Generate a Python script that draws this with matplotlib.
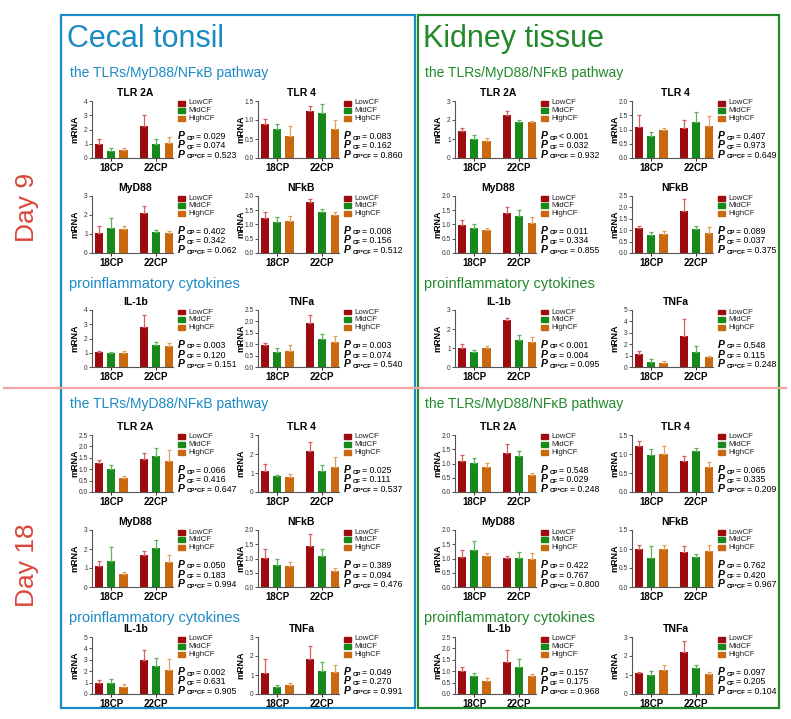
import numpy as np
import matplotlib
matplotlib.use('Agg')
import matplotlib.pyplot as plt
from matplotlib.patches import Rectangle
from matplotlib.lines import Line2D

plt.rcParams['font.family'] = 'Liberation Sans'

# ---- data (bar = mean, err = upper error bar) ----
# order: 18CP Low, Mid, High, 22CP Low, Mid, High
groups = ['18CP', '22CP']
treat = ['LowCF', 'MidCF', 'HighCF']

# Day 9, cecal tonsil
d9_ct_tlr2a = [1.0, 0.5, 0.58, 2.28, 1.0, 1.07]
d9_ct_tlr2a_err = [0.3, 0.18, 0.1, 0.77, 0.35, 0.43]
d9_ct_tlr4 = [0.9, 0.76, 0.58, 1.23, 1.18, 0.77]
d9_ct_tlr4_err = [0.13, 0.14, 0.25, 0.15, 0.24, 0.24]
d9_ct_myd88 = [1.03, 1.33, 1.25, 2.1, 1.08, 1.06]
d9_ct_myd88_err = [0.37, 0.52, 0.18, 0.35, 0.12, 0.09]
d9_ct_nfkb = [1.22, 1.09, 1.12, 1.78, 1.43, 1.32]
d9_ct_nfkb_err = [0.21, 0.19, 0.18, 0.12, 0.12, 0.13]
d9_ct_il1b = [1.02, 0.95, 1.0, 2.83, 1.55, 1.5]
d9_ct_il1b_err = [0.13, 0.08, 0.15, 0.79, 0.2, 0.2]
d9_ct_tnfa = [0.97, 0.67, 0.68, 1.92, 1.25, 1.1]
d9_ct_tnfa_err = [0.1, 0.16, 0.3, 0.38, 0.2, 0.27]

# Day 9, kidney
d9_kd_tlr2a = [1.4, 1.0, 0.88, 2.25, 1.9, 1.88]
d9_kd_tlr2a_err = [0.17, 0.22, 0.18, 0.2, 0.1, 0.07]
d9_kd_tlr4 = [1.1, 0.77, 1.0, 1.07, 1.27, 1.13]
d9_kd_tlr4_err = [0.4, 0.13, 0.05, 0.25, 0.36, 0.34]
d9_kd_myd88 = [0.98, 0.88, 0.8, 1.42, 1.3, 1.07]
d9_kd_myd88_err = [0.17, 0.14, 0.08, 0.21, 0.2, 0.21]
d9_kd_nfkb = [1.1, 0.78, 0.82, 1.85, 1.05, 0.87]
d9_kd_nfkb_err = [0.1, 0.12, 0.16, 0.5, 0.12, 0.25]
d9_kd_il1b = [0.98, 0.8, 0.98, 2.47, 1.42, 1.33]
d9_kd_il1b_err = [0.22, 0.12, 0.14, 0.11, 0.28, 0.27]
d9_kd_tnfa = [1.1, 0.45, 0.35, 2.7, 1.3, 0.87]
d9_kd_tnfa_err = [0.32, 0.25, 0.2, 1.55, 0.5, 0.13]

# Day 18, cecal tonsil
d18_ct_tlr2a = [1.27, 1.02, 0.6, 1.44, 1.58, 1.34]
d18_ct_tlr2a_err = [0.15, 0.18, 0.12, 0.26, 0.34, 0.52]
d18_ct_tlr4 = [1.12, 0.82, 0.78, 2.18, 1.13, 1.32]
d18_ct_tlr4_err = [0.38, 0.1, 0.15, 0.45, 0.27, 0.53]
d18_ct_myd88 = [1.08, 1.38, 0.68, 1.7, 2.07, 1.32]
d18_ct_myd88_err = [0.27, 0.74, 0.1, 0.17, 0.41, 0.36]
d18_ct_nfkb = [1.02, 0.78, 0.72, 1.43, 1.1, 0.55]
d18_ct_nfkb_err = [0.3, 0.19, 0.16, 0.42, 0.22, 0.12]
d18_ct_il1b = [0.97, 1.0, 0.62, 2.97, 2.5, 2.12]
d18_ct_il1b_err = [0.23, 0.3, 0.23, 0.9, 0.7, 0.98]
d18_ct_tnfa = [1.1, 0.38, 0.45, 1.85, 1.23, 1.18]
d18_ct_tnfa_err = [0.73, 0.12, 0.15, 0.7, 0.47, 0.37]

# Day 18, kidney
d18_kd_tlr2a = [1.1, 1.02, 0.88, 1.38, 1.27, 0.6]
d18_kd_tlr2a_err = [0.2, 0.16, 0.15, 0.3, 0.16, 0.05]
d18_kd_tlr4 = [1.22, 0.98, 1.01, 0.82, 1.07, 0.66]
d18_kd_tlr4_err = [0.13, 0.14, 0.19, 0.12, 0.1, 0.14]
d18_kd_myd88 = [1.05, 1.3, 1.1, 1.02, 1.02, 1.0]
d18_kd_myd88_err = [0.25, 0.32, 0.1, 0.08, 0.2, 0.2]
d18_kd_nfkb = [0.99, 0.77, 1.01, 0.93, 0.78, 0.95]
d18_kd_nfkb_err = [0.11, 0.31, 0.09, 0.15, 0.08, 0.15]
d18_kd_il1b = [1.03, 0.78, 0.55, 1.4, 1.17, 0.8]
d18_kd_il1b_err = [0.14, 0.12, 0.15, 0.52, 0.36, 0.08]
d18_kd_tnfa = [1.08, 1.02, 1.27, 2.2, 1.38, 1.06]
d18_kd_tnfa_err = [0.07, 0.18, 0.28, 0.6, 0.14, 0.12]

# P values (CP, CF, CP*CF)
p_d9_ct = [['= 0.029', '= 0.074', '= 0.523'], ['= 0.083', '= 0.162', '= 0.860'],
           ['= 0.402', '= 0.342', '= 0.062'], ['= 0.008', '= 0.156', '= 0.512'],
           ['= 0.003', '= 0.120', '= 0.151'], ['= 0.003', '= 0.074', '= 0.540']]
p_d9_kd = [['< 0.001', '= 0.032', '= 0.932'], ['= 0.407', '= 0.973', '= 0.649'],
           ['= 0.011', '= 0.334', '= 0.855'], ['= 0.089', '= 0.037', '= 0.375'],
           ['< 0.001', '= 0.004', '= 0.095'], ['= 0.548', '= 0.115', '= 0.248']]
p_d18_ct = [['= 0.066', '= 0.416', '= 0.647'], ['= 0.025', '= 0.111', '= 0.537'],
            ['= 0.050', '= 0.183', '= 0.994'], ['= 0.389', '= 0.094', '= 0.476'],
            ['= 0.002', '= 0.631', '= 0.905'], ['= 0.049', '= 0.270', '= 0.991']]
p_d18_kd = [['= 0.548', '= 0.029', '= 0.248'], ['= 0.065', '= 0.335', '= 0.209'],
            ['= 0.422', '= 0.767', '= 0.800'], ['= 0.762', '= 0.420', '= 0.967'],
            ['= 0.157', '= 0.175', '= 0.968'], ['= 0.097', '= 0.205', '= 0.104']]

titles = ['TLR 2A', 'TLR 4', 'MyD88', 'NFkB', 'IL-1b', 'TNFa']
# y-axis max and tick step for each panel
ylim_d9_ct = [(4, 1), (1.5, 0.5), (3, 1), (2.0, 0.5), (4, 1), (2.5, 0.5)]
ylim_d9_kd = [(3, 1), (2.0, 0.5), (2.0, 0.5), (2.5, 0.5), (3, 1), (5, 1)]
ylim_d18_ct = [(2.5, 0.5), (3, 1), (3, 1), (2.0, 0.5), (5, 1), (3, 1)]
ylim_d18_kd = [(2.0, 0.5), (1.5, 0.5), (2.0, 0.5), (1.5, 0.5), (2.5, 0.5), (3, 1)]

# ---- styling ----
bar_col = ['#9E0B0F', '#16891A', '#C9680F']
err_col = ['#D4605F', '#5DB35F', '#E2A160']
blue = '#1A8AC4'
green = '#22892A'
dayred = '#D9463A'

W, H = 791, 719
fig = plt.figure(figsize=(W / 100, H / 100), dpi=100)
renderer = fig.canvas.get_renderer()

def fx(x):
    return x / W

def fy(y):
    return 1 - y / H

xpos = np.array([0, 1, 2, 3.65, 4.65, 5.65])

def pval_line(x, y, sub, txt):
    t1 = fig.text(fx(x), fy(y), 'P', fontsize=7.5, fontweight='bold', style='italic', va='baseline')
    bb = t1.get_window_extent(renderer)
    t2 = fig.text(fx(x + bb.width + 1.5), fy(y + 0.5), sub, fontsize=4.4, fontweight='bold', va='baseline')
    bb2 = t2.get_window_extent(renderer)
    fig.text(fx(x + bb.width + 1.5 + bb2.width + 1.5), fy(y), txt, fontsize=6.3, va='baseline')

def panel(left, top, title, vals, errs, ymax, step, pv, w=81, h=57):
    ax = fig.add_axes([fx(left), fy(top + h), w / W, h / H])
    cols = bar_col * 2
    ecols = err_col * 2
    ax.bar(xpos, vals, width=0.66, color=cols, linewidth=0)
    for i in range(6):
        ax.errorbar(xpos[i], vals[i], yerr=[[0], [errs[i]]], fmt='none', ecolor=ecols[i],
                    elinewidth=0.9, capsize=1.6, capthick=0.9)
    ax.set_xlim(-0.55, 6.0)
    ax.set_ylim(0, ymax)
    ticks = np.arange(0, ymax + step / 2, step)
    ax.set_yticks(ticks)
    if step < 1:
        ax.set_yticklabels(['{:.1f}'.format(t) for t in ticks])
    else:
        ax.set_yticklabels(['{:d}'.format(int(t)) for t in ticks])
    ax.set_xticks([1, 4.65])
    ax.set_xticklabels(groups, fontsize=7, fontweight='bold')
    ax.tick_params(axis='y', labelsize=4.8, length=2, width=0.6, pad=1, colors='#333333')
    ax.tick_params(axis='x', length=2, width=0.6, pad=1.5)
    for s in ['top', 'right']:
        ax.spines[s].set_visible(False)
    for s in ['left', 'bottom']:
        ax.spines[s].set_color('#555555')
        ax.spines[s].set_linewidth(0.8)
    ax.set_ylabel('mRNA', fontsize=6.5, fontweight='bold')
    ax.yaxis.set_label_coords(-0.15, 0.5)
    ax.patch.set_alpha(0)
    # title
    fig.text(fx(left + w / 2 + 3), fy(top - 5), title, fontsize=7.5, fontweight='bold',
             ha='center', va='baseline')
    # legend
    lx = left + w + 5
    for k in range(3):
        cy = top + 2 + k * 7.7
        fig.add_artist(Rectangle((fx(lx), fy(cy + 2.5)), 7 / W, 5 / H, color=bar_col[k],
                                 transform=fig.transFigure))
        fig.text(fx(lx + 10), fy(cy), treat[k], fontsize=5.7, va='center', color='#222222')
    # p values
    subs = ['CP', 'CF', 'CP*CF']
    for k in range(3):
        pval_line(lx, top + h - 19 + k * 9.5, subs[k], pv[k])
    return ax

def section(cols, row_tops, vals_list, errs_list, ylims, pvs):
    for i in range(6):
        r = i // 2
        c = i % 2
        ym, st = ylims[i]
        panel(cols[c], row_tops[r], titles[i], vals_list[i], errs_list[i], ym, st, pvs[i])

ct_cols = [92, 258]
kd_cols = [455, 632]
d9_rows = [101, 196, 310]
d18_rows = [435, 530, 637]

section(ct_cols, d9_rows,
        [d9_ct_tlr2a, d9_ct_tlr4, d9_ct_myd88, d9_ct_nfkb, d9_ct_il1b, d9_ct_tnfa],
        [d9_ct_tlr2a_err, d9_ct_tlr4_err, d9_ct_myd88_err, d9_ct_nfkb_err, d9_ct_il1b_err, d9_ct_tnfa_err],
        ylim_d9_ct, p_d9_ct)
section(kd_cols, d9_rows,
        [d9_kd_tlr2a, d9_kd_tlr4, d9_kd_myd88, d9_kd_nfkb, d9_kd_il1b, d9_kd_tnfa],
        [d9_kd_tlr2a_err, d9_kd_tlr4_err, d9_kd_myd88_err, d9_kd_nfkb_err, d9_kd_il1b_err, d9_kd_tnfa_err],
        ylim_d9_kd, p_d9_kd)
section(ct_cols, d18_rows,
        [d18_ct_tlr2a, d18_ct_tlr4, d18_ct_myd88, d18_ct_nfkb, d18_ct_il1b, d18_ct_tnfa],
        [d18_ct_tlr2a_err, d18_ct_tlr4_err, d18_ct_myd88_err, d18_ct_nfkb_err, d18_ct_il1b_err, d18_ct_tnfa_err],
        ylim_d18_ct, p_d18_ct)
section(kd_cols, d18_rows,
        [d18_kd_tlr2a, d18_kd_tlr4, d18_kd_myd88, d18_kd_nfkb, d18_kd_il1b, d18_kd_tnfa],
        [d18_kd_tlr2a_err, d18_kd_tlr4_err, d18_kd_myd88_err, d18_kd_nfkb_err, d18_kd_il1b_err, d18_kd_tnfa_err],
        ylim_d18_kd, p_d18_kd)

# ---- frames, headers ----
fig.add_artist(Line2D([fx(4), fx(786)], [fy(388), fy(388)], color='#F2A3A3', lw=1.6))
fig.add_artist(Rectangle((fx(61), fy(708)), (415 - 61) / W, (708 - 15) / H, fill=False,
                         edgecolor=blue, lw=1.6, transform=fig.transFigure))
fig.add_artist(Rectangle((fx(418), fy(708)), (779 - 418) / W, (708 - 15) / H, fill=False,
                         edgecolor=green, lw=1.6, transform=fig.transFigure))

fig.text(fx(67), fy(47), 'Cecal tonsil', fontsize=22, color=blue, va='baseline')
fig.text(fx(423), fy(47), 'Kidney tissue', fontsize=22, color=green, va='baseline')
for x0, col in [(70, blue), (425, green)]:
    fig.text(fx(x0), fy(77), 'the TLRs/MyD88/NF\u03baB pathway', fontsize=10, color=col, va='baseline')
    fig.text(fx(x0), fy(408), 'the TLRs/MyD88/NF\u03baB pathway', fontsize=10, color=col, va='baseline')
    fig.text(fx(x0 - 1), fy(288), 'proinflammatory cytokines', fontsize=10.5, color=col, va='baseline')
    fig.text(fx(x0 - 1), fy(622), 'proinflammatory cytokines', fontsize=10.5, color=col, va='baseline')

fig.text(fx(27), fy(207), 'Day 9', fontsize=19, color=dayred, rotation=90, ha='center', va='center')
fig.text(fx(27), fy(565), 'Day 18', fontsize=19, color=dayred, rotation=90, ha='center', va='center')

fig.savefig('out.png', dpi=100)
